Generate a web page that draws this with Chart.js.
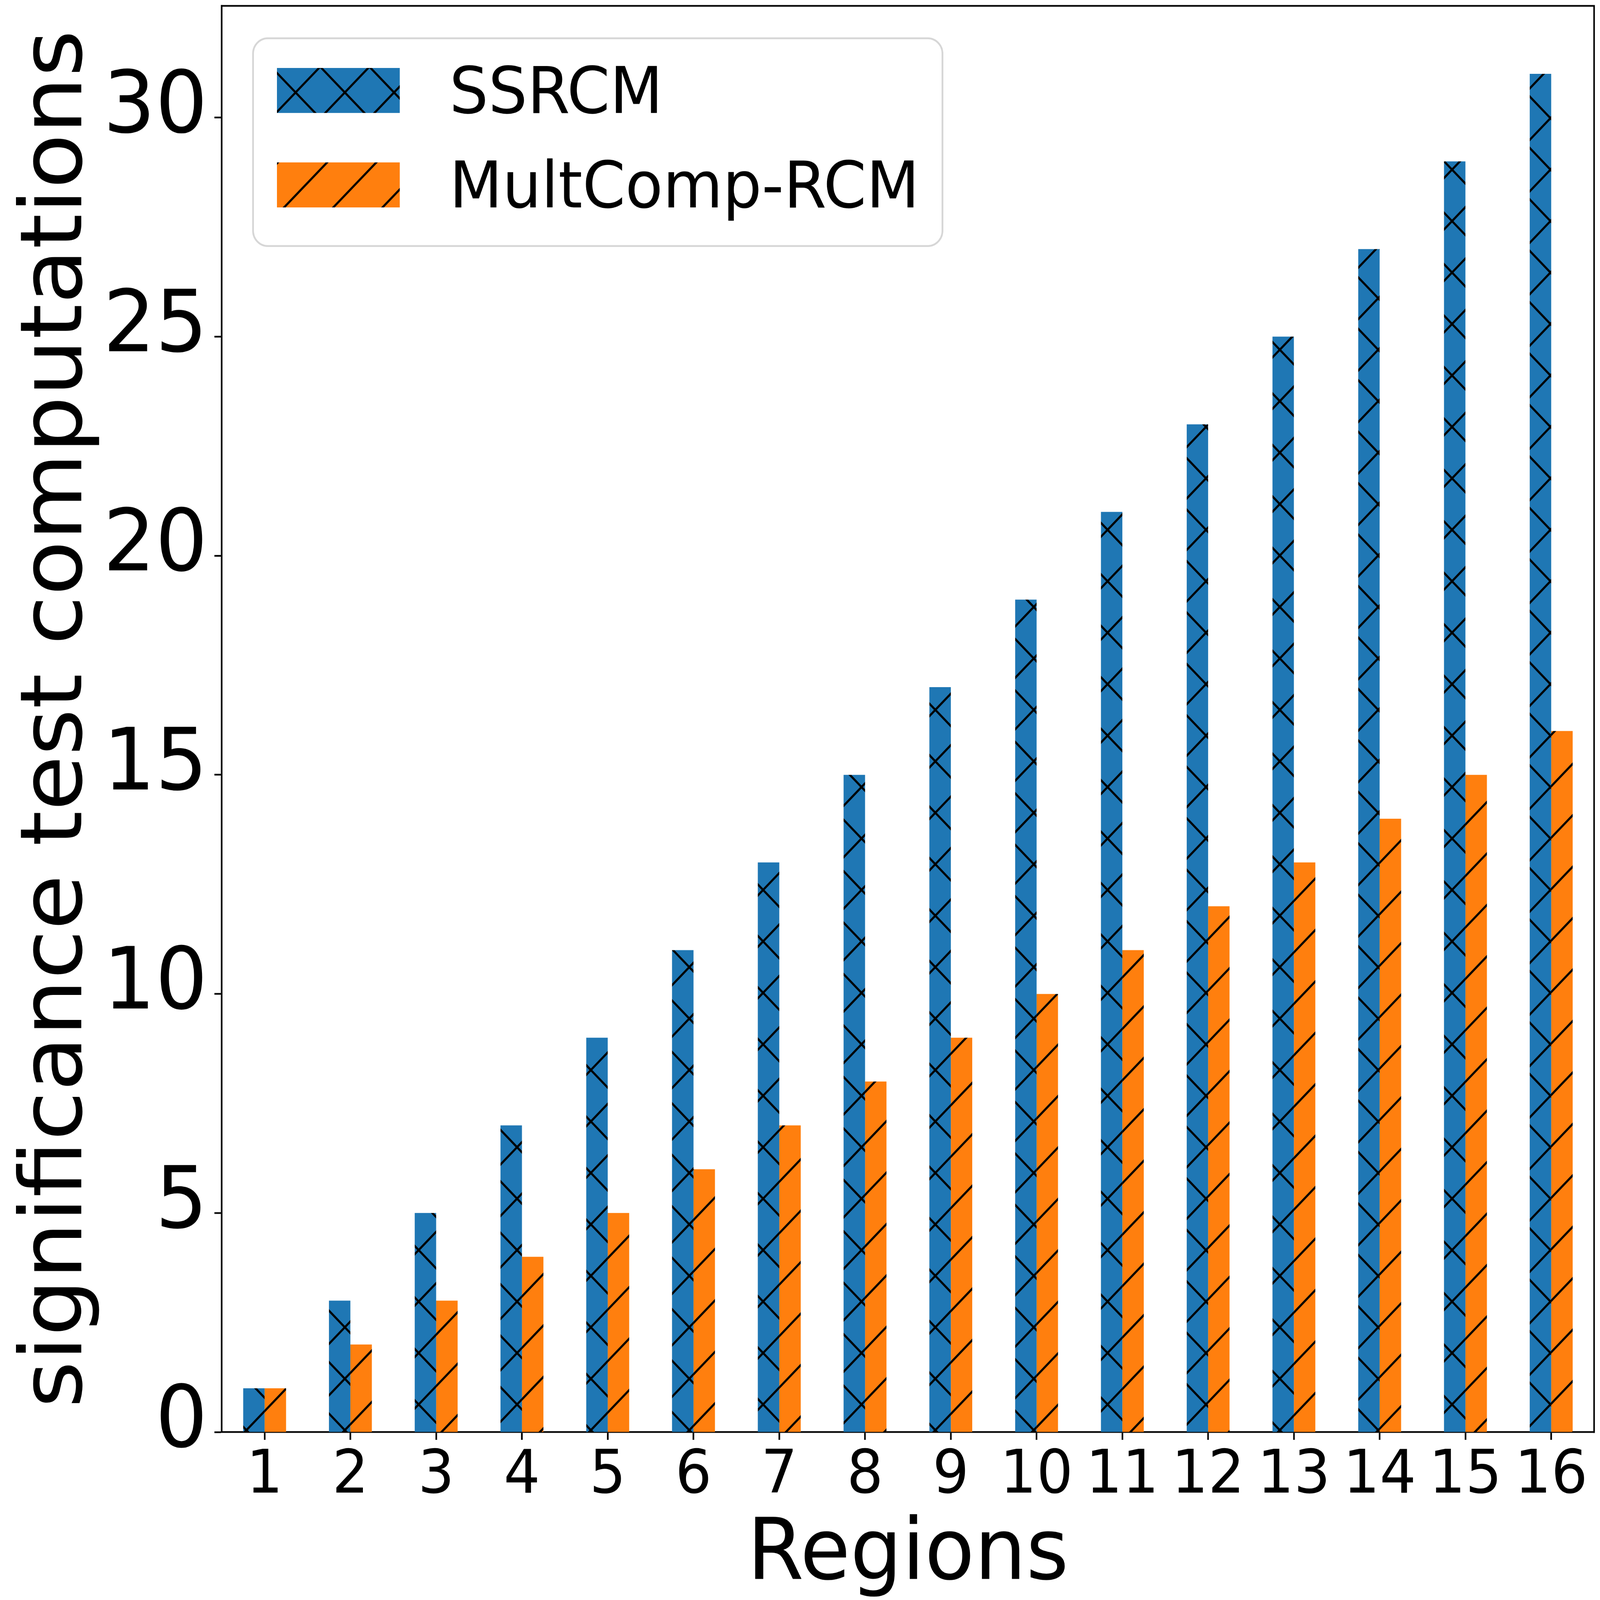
<!DOCTYPE html>
<html>
<head>
<meta charset="utf-8">
<title>significance test computations</title>
<script src="https://cdn.jsdelivr.net/npm/chart.js@4.4.0/dist/chart.umd.min.js"></script>
<style>
  html, body { margin: 0; padding: 0; background: #fff; overflow: hidden; }
  canvas { display: block; }
</style>
</head>
<body>
<canvas id="myBarChart" width="5419" height="5183"></canvas>
<script>
// data
const regions = ['1', '2', '3', '4', '5', '6', '7', '8', '9', '10', '11', '12', '13', '14', '15', '16'];
const ssrcm = [1, 3, 5, 7, 9, 11, 13, 15, 17, 19, 21, 23, 25, 27, 29, 31];
const multcomp = [1, 2, 3, 4, 5, 6, 7, 8, 9, 10, 11, 12, 13, 14, 15, 16];
const yTicks = [0, 5, 10, 15, 20, 25, 30];
const seriesNames = ['SSRCM', 'MultComp-RCM'];

const canvas = document.getElementById('myBarChart');
// drawing happens on a 5419x5183 backing store, shown to fill the viewport
canvas.style.width = window.innerWidth + 'px';
canvas.style.height = window.innerHeight + 'px';
const mainCtx = canvas.getContext('2d');

// hatch tile, anchored to the canvas like matplotlib anchors it to the figure
function hatch(color, cross) {
  const size = 500;
  const P = size / 3;
  const c = document.createElement('canvas');
  c.width = size; c.height = size;
  const g = c.getContext('2d');
  g.fillStyle = color;
  g.fillRect(0, 0, size, size);
  g.strokeStyle = '#000';
  g.lineWidth = 7;
  g.beginPath();
  for (let k = -6; k <= 12; k++) {
    const a = 134 + k * P;   // '/' lines: x + y = a
    g.moveTo(a + 100, -100);
    g.lineTo(a - 700, 700);
  }
  if (cross) {
    for (let k = -6; k <= 6; k++) {
      const b = 35 + k * P;  // '\' lines: x - y = b
      g.moveTo(b - 100, -100);
      g.lineTo(b + 700, 700);
    }
  }
  g.stroke();
  return mainCtx.createPattern(c, 'repeat');
}

const font = 'DejaVu Sans';

// top and right spines
const frame = {
  id: 'frame',
  afterDraw(chart) {
    const { left, right, top, bottom } = chart.chartArea;
    const ctx = chart.ctx;
    ctx.save();
    ctx.strokeStyle = '#000';
    ctx.lineWidth = 5.5;
    ctx.lineCap = 'square';
    ctx.beginPath();
    ctx.moveTo(left, top);
    ctx.lineTo(right, top);
    ctx.lineTo(right, bottom);
    ctx.stroke();
    ctx.restore();
  }
};

// legend box in the upper left of the axes
const legendBox = {
  id: 'legendBox',
  afterDraw(chart) {
    const ctx = chart.ctx;
    ctx.save();
    ctx.beginPath();
    ctx.roundRect(857, 124, 2335, 673, 50);
    ctx.fillStyle = 'rgba(255,255,255,0.8)';
    ctx.fill();
    ctx.lineWidth = 6;
    ctx.strokeStyle = '#d6d6d6';
    ctx.stroke();
    chart.data.datasets.forEach((ds, i) => {
      const y = 220 + i * 306;
      ctx.fillStyle = ds.backgroundColor;
      ctx.fillRect(938, y, 416, 146);
      ctx.fillStyle = '#000';
      ctx.font = '208px "' + font + '"';
      ctx.textBaseline = 'alphabetic';
      ctx.textAlign = 'left';
      ctx.fillText(ds.label, 1522, y + 146);
    });
    ctx.restore();
  }
};

const data = {
  labels: regions,
  datasets: [{
    label: seriesNames[0],
    data: ssrcm,
    backgroundColor: hatch('#1f77b4', true),
    borderWidth: 0,
    categoryPercentage: 0.5,
    barPercentage: 1.0
  },
  {
    label: seriesNames[1],
    data: multcomp,
    backgroundColor: hatch('#ff7f0e', false),
    borderWidth: 0,
    categoryPercentage: 0.5,
    barPercentage: 1.0
  }]
};

const axisGrid = {
  offset: false,
  drawOnChartArea: false,
  drawTicks: true,
  tickLength: 25,
  tickWidth: 5.5,
  tickColor: '#000',
  color: '#000'
};

const config = {
  type: 'bar',
  data: data,
  options: {
    responsive: false,
    devicePixelRatio: 1,
    animation: false,
    layout: { padding: { top: 19, right: 20, left: 0, bottom: 0 } },
    plugins: {
      legend: { display: false },
      tooltip: { enabled: false }
    },
    scales: {
      x: {
        offset: true,
        grid: axisGrid,
        border: { display: true, color: '#000', width: 5.5 },
        ticks: {
          color: '#000',
          font: { family: font, size: 194, lineHeight: 1 },
          padding: 24,
          maxRotation: 0,
          autoSkip: false
        },
        title: {
          display: true,
          text: 'Regions',
          color: '#000',
          font: { family: font, size: 276, lineHeight: 1 },
          padding: { top: 0, bottom: 2 }
        },
        afterFit(scale) {
          scale.height = 544;
          scale.paddingLeft = 0;
          scale.paddingRight = 0;
        }
      },
      y: {
        min: 0,
        max: 32.55,
        afterBuildTicks(scale) {
          scale.ticks = yTicks.map(v => ({ value: v }));
        },
        grid: axisGrid,
        border: { display: true, color: '#000', width: 5.5 },
        ticks: {
          color: '#000',
          font: { family: font, size: 278, lineHeight: 1 },
          padding: 23,
          labelOffset: -25
        },
        title: {
          display: true,
          text: 'significance test computations',
          color: '#000',
          font: { family: font, size: 291, lineHeight: 1 },
          padding: { top: 54, bottom: 0 }
        },
        afterFit(scale) {
          scale.width = 751;
          scale.paddingTop = 0;
          scale.paddingBottom = 0;
        }
      }
    }
  },
  plugins: [frame, legendBox]
};

const myChart = new Chart(canvas, config);
</script>
</body>
</html>
